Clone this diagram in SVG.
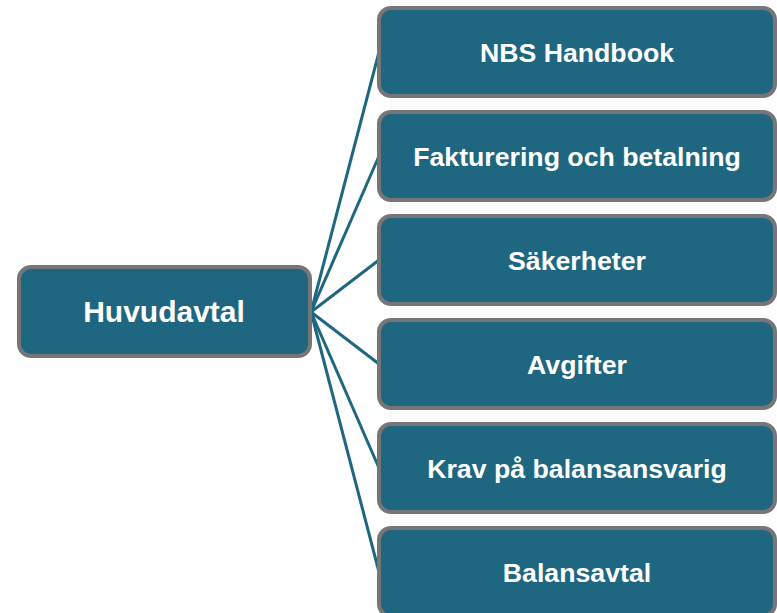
<svg xmlns="http://www.w3.org/2000/svg" width="777" height="613" viewBox="0 0 777 613">
  <style>
    .box { fill: #1F6680; stroke: #767676; stroke-width: 4; }
    .lbl { fill: #FFFFFF; font-family: "Liberation Sans", Arial, sans-serif; font-weight: bold; text-anchor: middle; }
    .conn { stroke: #1F6680; stroke-width: 3; fill: none; }
  </style>
  <rect width="777" height="613" fill="#FFFFFF"/>
  <g id="connectors">
    <line class="conn" x1="311" y1="312" x2="379" y2="52"/>
    <line class="conn" x1="311" y1="312" x2="379" y2="156"/>
    <line class="conn" x1="311" y1="312" x2="379" y2="260"/>
    <line class="conn" x1="311" y1="312" x2="379" y2="364"/>
    <line class="conn" x1="311" y1="312" x2="379" y2="468"/>
    <line class="conn" x1="311" y1="312" x2="379" y2="572"/>
  </g>
  <g id="huvudavtal">
    <rect class="box" x="19" y="267" width="291" height="89" rx="12"/>
    <text class="lbl" x="164" y="322" font-size="30">Huvudavtal</text>
  </g>
  <g id="nbs-handbook">
    <rect class="box" x="379" y="8" width="396" height="88" rx="12"/>
    <text class="lbl" x="577" y="62" font-size="26.7">NBS Handbook</text>
  </g>
  <g id="fakturering">
    <rect class="box" x="379" y="112" width="396" height="88" rx="12"/>
    <text class="lbl" x="577" y="166" font-size="26.7">Fakturering och betalning</text>
  </g>
  <g id="sakerheter">
    <rect class="box" x="379" y="216" width="396" height="88" rx="12"/>
    <text class="lbl" x="577" y="270" font-size="26.7">Säkerheter</text>
  </g>
  <g id="avgifter">
    <rect class="box" x="379" y="320" width="396" height="88" rx="12"/>
    <text class="lbl" x="577" y="374" font-size="26.7">Avgifter</text>
  </g>
  <g id="krav">
    <rect class="box" x="379" y="424" width="396" height="88" rx="12"/>
    <text class="lbl" x="577" y="478" font-size="26.7">Krav på balansansvarig</text>
  </g>
  <g id="balansavtal">
    <rect class="box" x="379" y="528" width="396" height="88" rx="12"/>
    <text class="lbl" x="577" y="582" font-size="26.7">Balansavtal</text>
  </g>
</svg>
